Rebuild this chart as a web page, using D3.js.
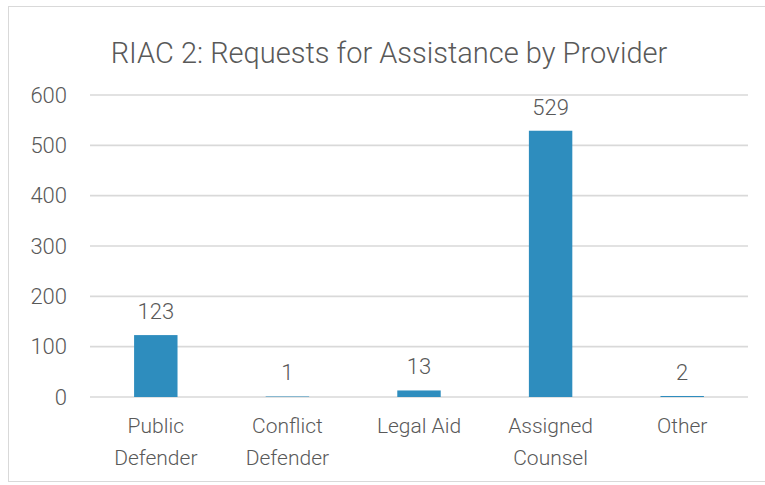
<!DOCTYPE html>
<html>
<head>
<meta charset="utf-8">
<script src="https://cdn.jsdelivr.net/npm/d3@7"></script>
<style>
  html, body { margin: 0; padding: 0; background: #ffffff; }
  svg { display: block; }
  text { font-family: Roboto, "Liberation Sans", sans-serif; font-weight: 300; fill: #595959; }
</style>
</head>
<body>
<svg id="chart" width="765" height="485"></svg>
<script>
// Requests for assistance, by provider type
const titleText = "RIAC 2: Requests for Assistance by Provider";
const providers = [["Public", "Defender"], ["Conflict", "Defender"], ["Legal Aid"], ["Assigned", "Counsel"], ["Other"]];
const requests = [123, 1, 13, 529, 2];
const yTicks = [0, 100, 200, 300, 400, 500, 600];

const W = 765, H = 485;
const margin = { top: 95, right: 17, bottom: 88, left: 90 };

const svg = d3.select("#chart");

// outer chart frame
svg.append("rect")
  .attr("x", 8.5).attr("y", 6.5)
  .attr("width", W + 20).attr("height", 475)
  .attr("fill", "none").attr("stroke", "#d9d9d9").attr("stroke-width", 1);

const x = d3.scaleBand()
  .domain(d3.range(providers.length))
  .range([margin.left, W - margin.right])
  .paddingInner(0.67).paddingOuter(0.335);

const y = d3.scaleLinear()
  .domain([0, 600])
  .range([H - margin.bottom, margin.top]);

// horizontal gridlines
svg.append("g")
  .selectAll("line")
  .data(yTicks)
  .join("line")
  .attr("x1", margin.left).attr("x2", W - margin.right)
  .attr("y1", d => y(d)).attr("y2", d => y(d))
  .attr("stroke", "#d9d9d9").attr("stroke-width", 1.6);

// y axis tick labels
const yAxis = d3.axisLeft(y).tickValues(yTicks).tickSize(0).tickPadding(23);
const gy = svg.append("g").attr("transform", `translate(${margin.left},0)`).call(yAxis);
gy.select(".domain").remove();
gy.selectAll("text")
  .attr("font-size", 22)
  .attr("fill", "#595959")
  .style("font-family", "Roboto, 'Liberation Sans', sans-serif")
  .style("font-weight", 300);

// bars
svg.append("g")
  .selectAll("rect")
  .data(requests)
  .join("rect")
  .attr("x", (d, i) => x(i))
  .attr("width", x.bandwidth())
  .attr("y", d => y(d))
  .attr("height", d => y(0) - y(d))
  .attr("fill", "#2e8dbe");

// value labels above bars
svg.append("g")
  .selectAll("text")
  .data(requests)
  .join("text")
  .attr("x", (d, i) => x(i) + x.bandwidth() / 2)
  .attr("y", d => y(d) - 16)
  .attr("text-anchor", "middle")
  .attr("font-size", 22)
  .text(d => d);

// category labels
const xl = svg.append("g")
  .selectAll("text")
  .data(providers)
  .join("text")
  .attr("x", (d, i) => x(i) + x.bandwidth() / 2)
  .attr("y", 433)
  .attr("text-anchor", "middle")
  .attr("font-size", 21);
xl.selectAll("tspan")
  .data(d => d)
  .join("tspan")
  .attr("x", function () { return d3.select(this.parentNode).attr("x"); })
  .attr("dy", (d, i) => i === 0 ? 0 : 32)
  .text(d => d);

// title
svg.append("text")
  .attr("x", 389)
  .attr("y", 63)
  .attr("text-anchor", "middle")
  .attr("font-size", 29)
  .text(titleText);
</script>
</body>
</html>
